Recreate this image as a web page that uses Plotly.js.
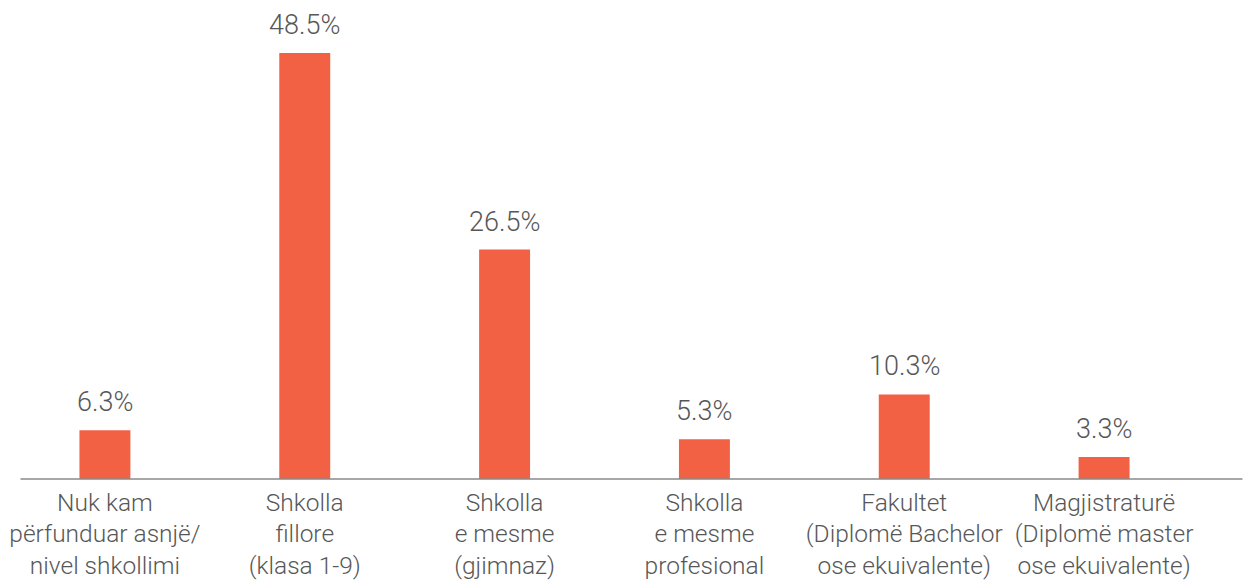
<!DOCTYPE html>
<html>
<head>
<meta charset="utf-8">
<script src="https://cdn.plot.ly/plotly-3.0.1.min.js"></script>
<style>html,body{margin:0;padding:0;background:#fff;}#chart{width:1243px;height:583px;}</style>
</head>
<body>
<div id="chart"></div>
<script>
const categories = [
  "Nuk kam<br>përfunduar asnjë/<br>nivel shkollimi",
  "Shkolla<br>fillore<br>(klasa 1-9)",
  "Shkolla<br>e mesme<br>(gjimnaz)",
  "Shkolla<br>e mesme<br>profesional",
  "Fakultet<br>(Diplomë Bachelor<br>ose ekuivalente)",
  "Magjistraturë<br>(Diplomë master<br>ose ekuivalente)"
];
const values = [6.3, 48.5, 26.5, 5.3, 10.3, 3.3];
const valueLabels = values.map(v => v.toFixed(1) + "%");

const FONT = "Roboto, 'Liberation Sans', sans-serif";
const TEXT = "#575757";
const trace = {
  type: "bar",
  x: categories,
  y: values,
  marker: {color: "#F26144"},
  hoverinfo: "skip"
};
const annotations = categories.map((c, i) => ({
  x: c, y: values[i], xref: "x", yref: "y",
  text: valueLabels[i], showarrow: false,
  xanchor: "center", yanchor: "bottom", yshift: 10,
  font: {family: FONT, size: 27, color: TEXT, weight: 300}
}));
const layout = {
  width: 1243, height: 583,
  margin: {l: 4.5, r: 38.5, t: 20, b: 104},
  paper_bgcolor: "#ffffff",
  plot_bgcolor: "#ffffff",
  bargap: 0.745,
  showlegend: false,
  font: {family: FONT, color: TEXT},
  xaxis: {
    type: "category",
    showline: false, showgrid: false, zeroline: false,
    ticks: "", ticklabelstandoff: 6,
    tickfont: {family: FONT, size: 24.5, color: TEXT, weight: 300},
    fixedrange: true
  },
  yaxis: {
    range: [0.84, 52.18],
    visible: false, showgrid: false, zeroline: false,
    fixedrange: true
  },
  annotations: annotations,
  shapes: [{
    type: "line", xref: "paper", yref: "paper",
    x0: (20 - 4.5) / 1200, x1: (1243 - 4.5) / 1200, y0: 0, y1: 0,
    line: {color: "#8a8a8a", width: 1.5}
  }]
};
Plotly.newPlot("chart", [trace], layout, {displayModeBar: false, staticPlot: true});
</script>
</body>
</html>
